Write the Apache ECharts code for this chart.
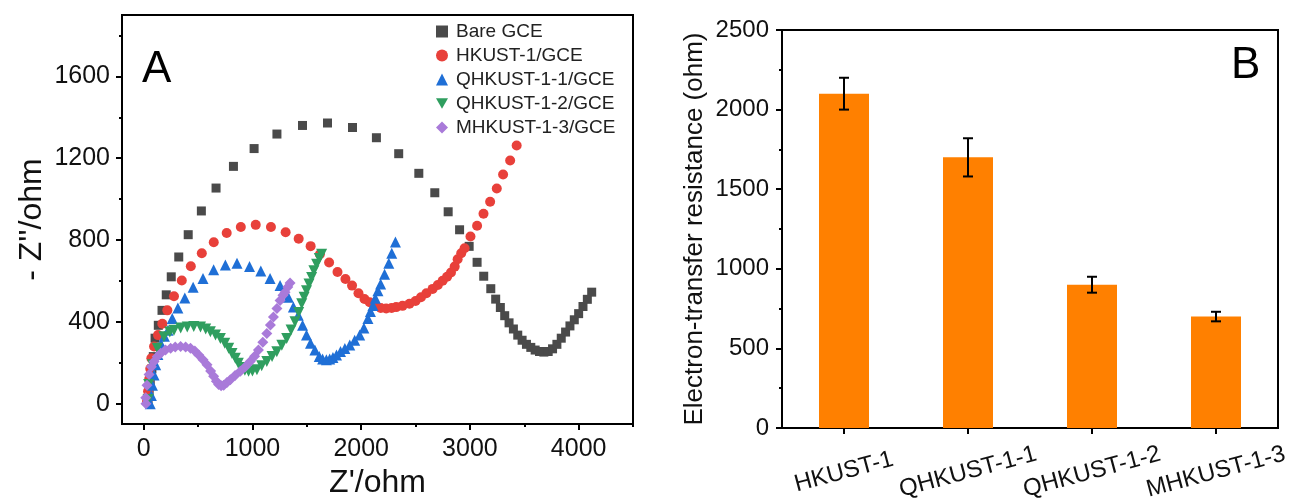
<!DOCTYPE html>
<html>
<head>
<meta charset="utf-8">
<script src="https://cdn.jsdelivr.net/npm/echarts@6/dist/echarts.min.js"></script>
<style>
  html, body { margin: 0; padding: 0; background: #fff; }
  #chart { width: 1300px; height: 504px; }
</style>
</head>
<body>
<div id="chart"></div>
<script>
// ---- panel A: Nyquist plots, [Z', -Z''] in ohm ----
var bareGCE = [
  [40, 20], [50, 60], [60, 110], [75, 170], [88, 230], [104, 320], [134, 383], [168, 456],
  [207, 532], [253, 620], [322, 717], [409, 826], [530, 942], [665, 1054], [825, 1160],
  [1015, 1247], [1225, 1318], [1460, 1360], [1690, 1372], [1920, 1350], [2140, 1300],
  [2345, 1222], [2530, 1126], [2677, 1031], [2800, 938], [2905, 850], [2993, 769],
  [3066, 691], [3127, 623], [3192, 562], [3237, 511], [3280, 470], [3320, 430], [3360, 395],
  [3400, 365], [3440, 335], [3480, 310], [3520, 290], [3560, 275], [3600, 262], [3640, 255],
  [3680, 252], [3720, 255], [3760, 268], [3800, 290], [3840, 320], [3880, 350], [3920, 380],
  [3960, 410], [4000, 440], [4040, 475], [4080, 510], [4120, 545]
];
var hkust = [
  [30, 10], [40, 60], [50, 120], [60, 170], [70, 222], [95, 279], [131, 335], [171, 391],
  [217, 456], [278, 525], [350, 602], [433, 672], [534, 735], [644, 789], [763, 834],
  [893, 864], [1030, 874], [1170, 864], [1305, 838], [1425, 806], [1535, 770], [1620, 730],
  [1705, 690], [1782, 644], [1855, 609], [1916, 577], [1975, 540], [2030, 512], [2078, 496],
  [2130, 480], [2180, 468], [2230, 465], [2280, 468], [2322, 472], [2380, 478], [2444, 488],
  [2500, 502], [2550, 520], [2600, 540], [2657, 561], [2705, 580], [2749, 601], [2790, 620],
  [2826, 641], [2860, 670], [2887, 706], [2920, 735], [2951, 760], [3005, 817], [3066, 870],
  [3125, 928], [3186, 987], [3247, 1052], [3305, 1120], [3370, 1189], [3430, 1262]
];
var qhkust11 = [
  [60, 0], [70, 40], [80, 90], [95, 140], [110, 190], [130, 240], [160, 290], [190, 330],
  [223, 359], [262, 416], [314, 467], [378, 517], [454, 569], [545, 612], [643, 654],
  [751, 678], [858, 686], [973, 670], [1077, 649], [1162, 612], [1254, 577], [1330, 520],
  [1376, 472], [1421, 432], [1461, 383], [1497, 335], [1534, 295], [1574, 262], [1614, 230],
  [1645, 218], [1680, 214], [1710, 218], [1740, 226], [1773, 238], [1810, 255], [1850, 270],
  [1895, 287], [1940, 310], [1986, 335], [2025, 370], [2062, 416], [2085, 450], [2108, 480],
  [2130, 515], [2154, 552], [2179, 585], [2215, 633], [2254, 686], [2281, 735], [2315, 790]
];
var qhkust12 = [
  [40, 20], [45, 93], [80, 190], [125, 271], [186, 327], [240, 350], [278, 359], [340, 370],
  [400, 375], [460, 377], [522, 375], [570, 365], [613, 351], [660, 335], [705, 319],
  [745, 295], [781, 271], [812, 245], [842, 222], [870, 198], [903, 177], [930, 163],
  [964, 158], [1000, 160], [1041, 166], [1085, 185], [1132, 206], [1180, 230], [1224, 254],
  [1270, 285], [1315, 319], [1355, 360], [1391, 400], [1425, 445], [1453, 488], [1475, 520],
  [1497, 552], [1520, 585], [1544, 617], [1565, 650], [1590, 681], [1615, 710], [1636, 730]
];
var mhkust13 = [
  [20, 0], [18, 29], [30, 90], [49, 142], [70, 180], [95, 206], [125, 230], [156, 246],
  [200, 262], [247, 271], [290, 277], [339, 279], [385, 277], [430, 271], [470, 257],
  [506, 238], [545, 215], [582, 190], [615, 160], [643, 134], [668, 110], [689, 93],
  [712, 88], [735, 90], [765, 103], [796, 117], [840, 137], [888, 158], [935, 180],
  [979, 206], [1020, 232], [1055, 262], [1095, 300], [1132, 343], [1165, 385], [1193, 424],
  [1225, 465], [1254, 504], [1280, 530], [1300, 545], [1325, 570], [1346, 590]
];
var seriesNames = ['Bare GCE', 'HKUST-1/GCE', 'QHKUST-1-1/GCE', 'QHKUST-1-2/GCE', 'MHKUST-1-3/GCE'];
var xMajorTicks = [0, 1000, 2000, 3000, 4000];
var xMinorTicks = [500, 1500, 2500, 3500, 4500];
var yMajorTicks = [0, 400, 800, 1200, 1600];
var yMinorTicks = [200, 600, 1000, 1400, 1800];

// ---- panel B: charge-transfer resistance ----
var rctCategories = ['HKUST-1', 'QHKUST-1-1', 'QHKUST-1-2', 'MHKUST-1-3'];
var rctValues = [2100, 1700, 900, 700];
var rctErrors = [100, 120, 50, 30];

var FONT = "'Liberation Sans', Arial, sans-serif";
var invTriangle = 'path://M0,0L10,0L5,8.66Z';
var plain = function (v) { return String(v); };

var errData = rctValues.map(function (v, i) {
  return [i, v - rctErrors[i], v + rctErrors[i]];
});

var chart = echarts.init(document.getElementById('chart'));

function scatter (name, data, symbol, size, color) {
  return {
    name: name,
    type: 'scatter',
    xAxisIndex: 0,
    yAxisIndex: 0,
    symbol: symbol,
    symbolSize: size,
    itemStyle: { color: color, opacity: 1 },
    data: data,
    z: 3
  };
}

var tickStyle = { color: '#000', width: 2 };

chart.setOption({
  animation: false,
  textStyle: { fontFamily: FONT },
  grid: [
    { left: 122, top: 15, width: 511, height: 413, show: true, borderColor: '#000', borderWidth: 2 },
    { left: 782, top: 30, width: 496, height: 398, show: true, borderColor: '#000', borderWidth: 2 }
  ],
  legend: {
    orient: 'vertical',
    left: 431,
    top: 17,
    itemWidth: 12,
    itemHeight: 12,
    itemGap: 5,
    textStyle: { fontSize: 19, color: '#222', fontFamily: FONT, padding: [0, 0, 0, 3] },
    data: seriesNames
  },
  xAxis: [
    {
      gridIndex: 0, type: 'value', min: -200, max: 4500, position: 'bottom',
      axisLine: { show: true, onZero: false, lineStyle: tickStyle },
      axisTick: { show: true, customValues: xMajorTicks, length: 6, lineStyle: tickStyle },
      axisLabel: { customValues: xMajorTicks, formatter: plain, fontSize: 25, color: '#111', margin: 13 },
      splitLine: { show: false },
      name: "Z'/ohm", nameLocation: 'middle', nameGap: 42,
      nameTextStyle: { fontSize: 32, color: '#111' }
    },
    {
      gridIndex: 0, type: 'value', min: -200, max: 4500, position: 'bottom',
      axisLine: { show: false, onZero: false },
      axisTick: { show: true, customValues: xMinorTicks, length: 3, lineStyle: tickStyle },
      axisLabel: { show: false },
      splitLine: { show: false }
    },
    {
      gridIndex: 1, type: 'category', data: rctCategories,
      axisLine: { show: true, onZero: false, lineStyle: tickStyle },
      axisTick: { show: true, alignWithLabel: true, length: 6, lineStyle: tickStyle },
      axisLabel: { fontSize: 24, color: '#111', rotate: 15, align: 'center', margin: 44, interval: 0 },
      splitLine: { show: false }
    }
  ],
  yAxis: [
    {
      gridIndex: 0, type: 'value', min: -100, max: 1900, position: 'left',
      axisLine: { show: true, onZero: false, lineStyle: tickStyle },
      axisTick: { show: true, customValues: yMajorTicks, length: 6, lineStyle: tickStyle },
      axisLabel: { customValues: yMajorTicks, formatter: plain, fontSize: 25, color: '#111', margin: 12 },
      splitLine: { show: false },
      name: "- Z''/ohm", nameLocation: 'middle', nameGap: 74,
      nameTextStyle: { fontSize: 32, color: '#111' }
    },
    {
      gridIndex: 0, type: 'value', min: -100, max: 1900, position: 'left',
      axisLine: { show: false, onZero: false },
      axisTick: { show: true, customValues: yMinorTicks, length: 3, lineStyle: tickStyle },
      axisLabel: { show: false },
      splitLine: { show: false }
    },
    {
      gridIndex: 1, type: 'value', min: 0, max: 2500, interval: 500,
      axisLine: { show: true, onZero: false, lineStyle: tickStyle },
      axisTick: { show: true, length: 6, lineStyle: tickStyle },
      minorTick: { show: true, splitNumber: 2, length: 3, lineStyle: tickStyle },
      axisLabel: { formatter: plain, fontSize: 24, color: '#111', margin: 13 },
      splitLine: { show: false },
      name: 'Electron-transfer resistance (ohm)', nameLocation: 'middle', nameGap: 74,
      nameTextStyle: { fontSize: 26, color: '#111' }
    }
  ],
  graphic: [
    { type: 'text', left: 142, top: 48, style: { text: 'A', font: '44px ' + FONT, fill: '#000' } },
    { type: 'text', left: 1231, top: 44, style: { text: 'B', font: '44px ' + FONT, fill: '#000' } }
  ],
  series: [
    scatter(seriesNames[0], bareGCE, 'rect', 9, '#4a4a4a'),
    scatter(seriesNames[1], hkust, 'circle', 10, '#e8403a'),
    scatter(seriesNames[2], qhkust11, 'triangle', 11, '#1f6fd6'),
    scatter(seriesNames[3], qhkust12, invTriangle, 11, '#2f9e5f'),
    scatter(seriesNames[4], mhkust13, 'diamond', 11, '#a97ad9'),
    {
      name: 'Rct',
      type: 'bar',
      xAxisIndex: 2,
      yAxisIndex: 2,
      barWidth: 50,
      itemStyle: { color: '#ff8000' },
      data: rctValues
    },
    {
      name: 'Rct error',
      type: 'custom',
      xAxisIndex: 2,
      yAxisIndex: 2,
      z: 5,
      renderItem: function (params, api) {
        var i = api.value(0);
        var lo = api.coord([i, api.value(1)]);
        var hi = api.coord([i, api.value(2)]);
        var cap = 5;
        var st = { stroke: '#000', lineWidth: 2 };
        return {
          type: 'group',
          children: [
            { type: 'line', shape: { x1: hi[0], y1: hi[1], x2: lo[0], y2: lo[1] }, style: st },
            { type: 'line', shape: { x1: hi[0] - cap, y1: hi[1], x2: hi[0] + cap, y2: hi[1] }, style: st },
            { type: 'line', shape: { x1: lo[0] - cap, y1: lo[1], x2: lo[0] + cap, y2: lo[1] }, style: st }
          ]
        };
      },
      data: errData
    }
  ]
});
</script>
</body>
</html>
